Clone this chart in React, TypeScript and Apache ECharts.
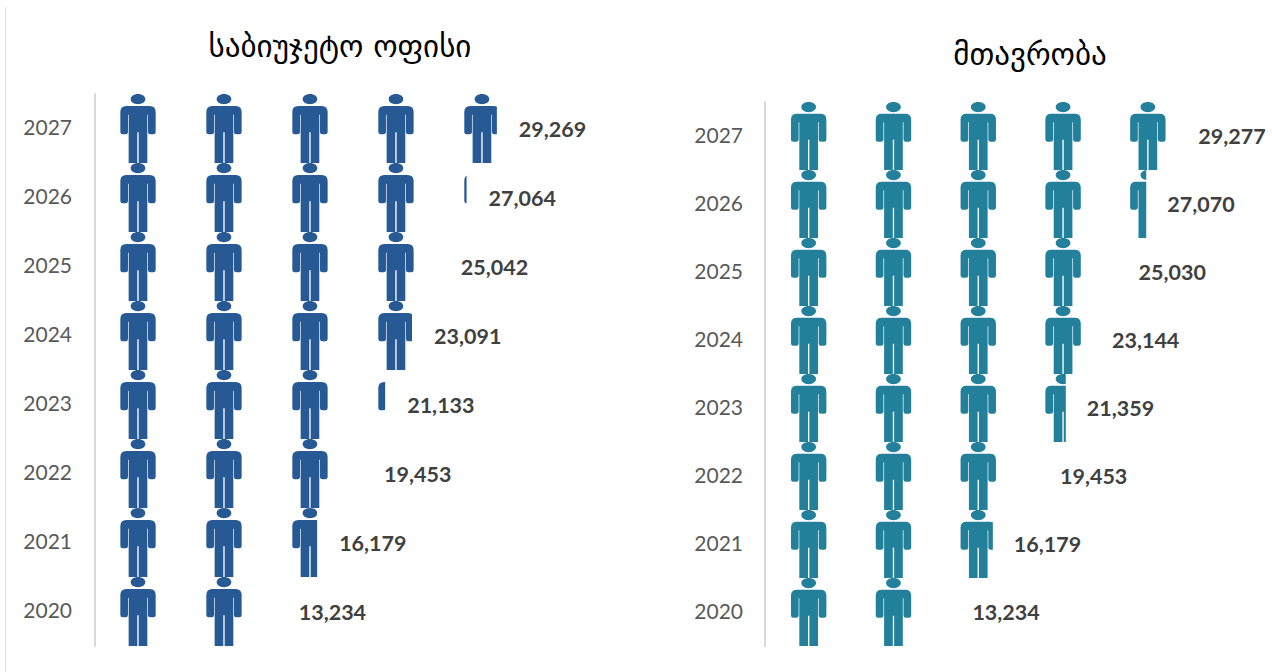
import React, { useEffect, useRef } from "react";
import * as echarts from "echarts";

const years = ["2020", "2021", "2022", "2023", "2024", "2025", "2026", "2027"];
const budgetOffice = [13234, 16179, 19453, 21133, 23091, 25042, 27064, 29269];
const government = [13234, 16179, 19453, 21359, 23144, 25030, 27070, 29277];
const titleLeft = "საბიუჯეტო ოფისი";
const titleRight = "მთავრობა";

const figure =
  "M150 0C163 0 172 7 172 15.5C172 24 163 31 150 31C137 31 128 24 128 15.5C128 7 137 0 150 0Z" +
  "M115 36L185 36Q203 36 203 54L203 114Q203 121 196 121L187 121Q180 121 180 114L180 62L178 62L178 207L152 207L152 115L148 115L148 207L122 207L122 62L120 62L120 114Q120 121 113 121L104 121Q97 121 97 114L97 54Q97 36 115 36Z";

const iconLeft = "path://M21 0L21 0Z M279 207L279 207Z " + figure;
const iconRight = "path://M19 0L19 0Z M274 207L274 207Z " + figure;

const FONT = "Lato, 'Open Sans', sans-serif";

function panel(i: number, values: number[], left: number, top: number, rowH: number, cellW: number, unit: number, max: number, pxPerUnit: number, icon: string, tickMargin: number, labelGap: number) {
  return {
    grid: { left, top, width: max * pxPerUnit, height: rowH * years.length, containLabel: false },
    xAxis: { type: "value", gridIndex: i, min: 0, max, show: false },
    yAxis: {
      type: "category",
      gridIndex: i,
      data: years,
      axisLine: { show: true, lineStyle: { color: "#d9d9d9", width: 2 } },
      axisTick: { show: false },
      axisLabel: { color: "#595959", fontSize: 21, fontFamily: FONT, margin: tickMargin, verticalAlign: "bottom", lineHeight: 4 },
    },
    series: [
      {
        type: "pictorialBar",
        xAxisIndex: i,
        yAxisIndex: i,
        data: values,
        symbol: icon,
        symbolSize: [cellW, rowH],
        symbolRepeat: 5,
        symbolMargin: 0,
        symbolClip: true,
        symbolPosition: "start",
        symbolBoundingData: unit * 5,
        barWidth: "100%",
        itemStyle: { color: i === 0 ? "#275a94" : "#22809b" },
        z: 2,
      },
      {
        type: "bar",
        xAxisIndex: i,
        yAxisIndex: i,
        data: values,
        barWidth: "100%",
        barGap: "-100%",
        itemStyle: { color: "rgba(0,0,0,0)" },
        z: 3,
        label: {
          show: true,
          position: "right",
          distance: labelGap,
          color: "#404040",
          fontSize: 21.5,
          fontWeight: "bold",
          fontFamily: FONT,
          formatter: (p: any) => Number(p.value).toLocaleString("en-US"),
        },
      },
    ],
  };
}

export default function App() {
  const ref = useRef<HTMLDivElement>(null);
  useEffect(() => {
    document.body.style.margin = "0";
    const chart = echarts.init(ref.current!, null, { renderer: "svg" });
    const a = panel(0, budgetOffice, 95, 94, 69, 86, 6263, 40000, 0.01373, iconLeft, 23, 22);
    const b = panel(1, government, 765, 102, 68, 85, 6024, 36000, 0.01411, iconRight, 22, 21);
    const titleStyle = { fontFamily: "'DejaVu Sans', sans-serif", fontSize: 31, fontWeight: "normal", color: "#000000" };
    chart.setOption({
      animation: false,
      backgroundColor: "#ffffff",
      title: [
        { text: titleLeft, left: 335, top: 25, textAlign: "center", textStyle: titleStyle },
        { text: titleRight, left: 1025, top: 33, textAlign: "center", textStyle: titleStyle },
      ],
      grid: [a.grid, b.grid],
      xAxis: [a.xAxis, b.xAxis],
      yAxis: [a.yAxis, b.yAxis],
      series: [...a.series, ...b.series],
      graphic: [
        { type: "line", shape: { x1: 5.5, y1: 7, x2: 5.5, y2: 672 }, style: { stroke: "#ffff00", lineWidth: 1 } },
      ],
    });
    return () => chart.dispose();
  }, []);
  return <div ref={ref} style={{ position: "absolute", left: 0, top: 0, width: 1272, height: 672 }} />;
}
